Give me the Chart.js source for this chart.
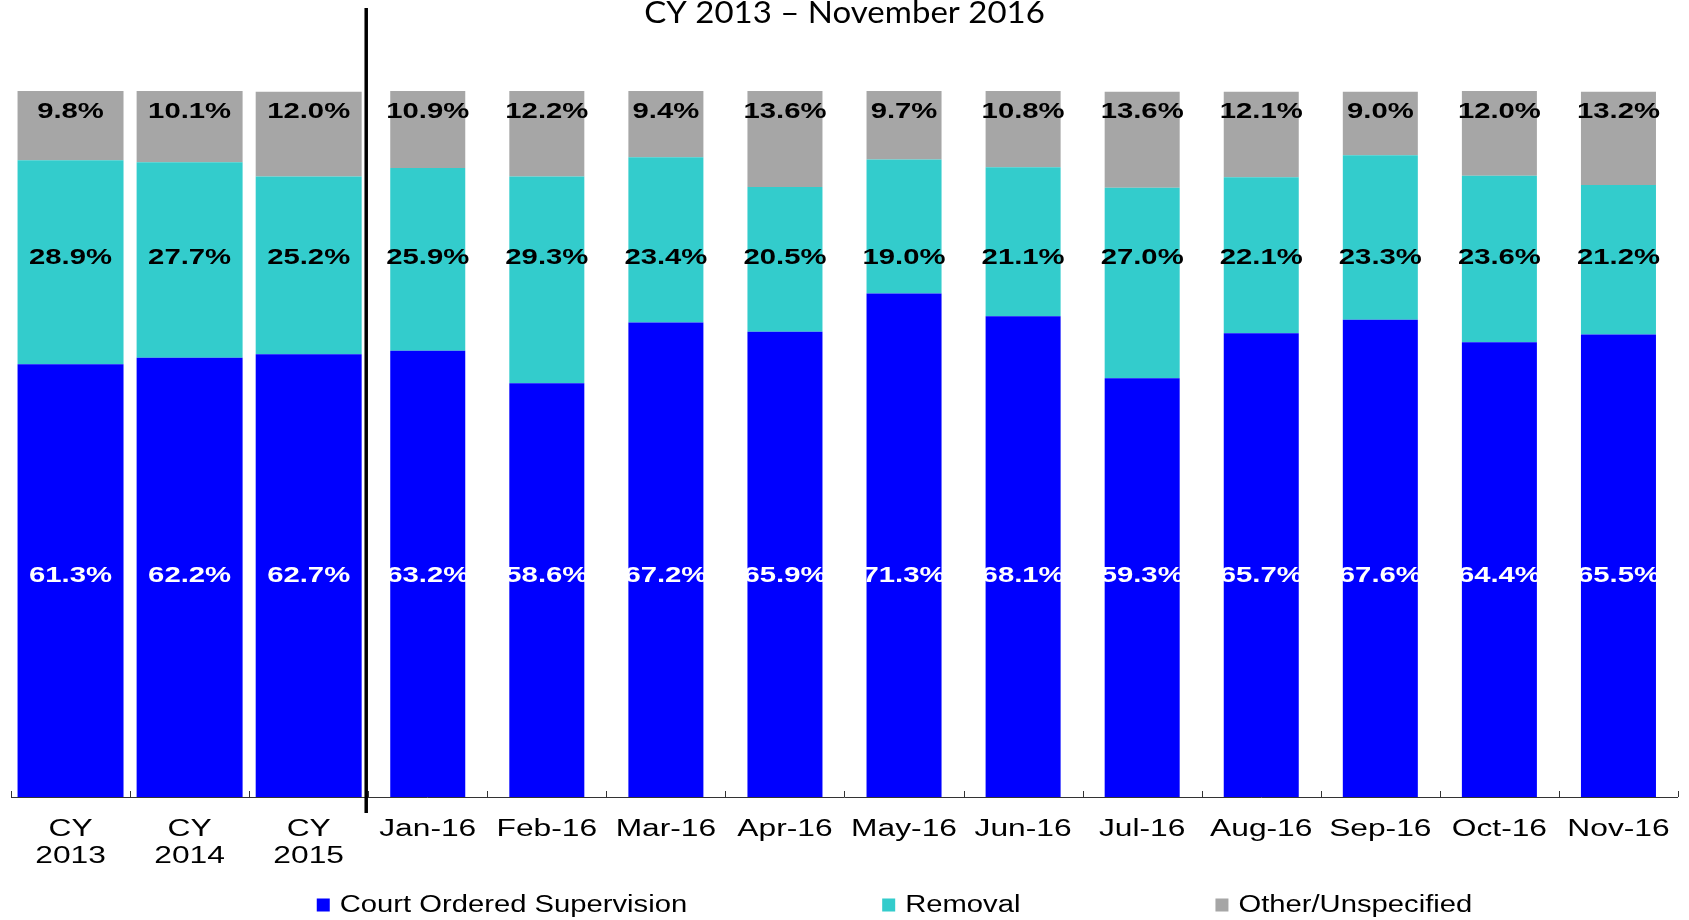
<!DOCTYPE html>
<html>
<head>
<meta charset="utf-8">
<script src="https://cdn.jsdelivr.net/npm/chart.js@4.4.1/dist/chart.umd.min.js"></script>
<style>
  html, body { margin: 0; padding: 0; background: #fff; }
  #wrap { width: 1689px; height: 920px; position: relative; }
</style>
</head>
<body>
<div id="wrap"><canvas id="chart"></canvas></div>
<script>
// categories (first three are full calendar years, the rest are months)
const categories = [['CY', '2013'], ['CY', '2014'], ['CY', '2015'], 'Jan-16', 'Feb-16', 'Mar-16', 'Apr-16',
    'May-16', 'Jun-16', 'Jul-16', 'Aug-16', 'Sep-16', 'Oct-16', 'Nov-16'];
const yearCount = 3;

const courtOrdered = [61.3, 62.2, 62.7, 63.2, 58.6, 67.2, 65.9, 71.3, 68.1, 59.3, 65.7, 67.6, 64.4, 65.5];
const removal = [28.9, 27.7, 25.2, 25.9, 29.3, 23.4, 20.5, 19.0, 21.1, 27.0, 22.1, 23.3, 23.6, 21.2];
const other = [9.8, 10.1, 12.0, 10.9, 12.2, 9.4, 13.6, 9.7, 10.8, 13.6, 12.1, 9.0, 12.0, 13.2];

const seriesNames = ['Court Ordered Supervision', 'Removal', 'Other/Unspecified'];
const seriesValues = [courtOrdered, removal, other];
const seriesColors = ['#0000ff', '#33cccc', '#a6a6a6'];
const labelColors = ['#ffffff', '#000000', '#000000'];
// the original labels sit at roughly the same height in every bar
const labelLevels = [31.3, 76.3, 97];

const titleText = 'CY 2013 \u2013 November 2016';
const FONT = '"Liberation Sans", Arial, sans-serif';

// year bars are wider than month bars, so each series gets two datasets
const datasets = [];
seriesValues.forEach((vals, s) => {
    datasets.push({
        label: seriesNames[s],
        data: vals.map((v, i) => i < yearCount ? v : null),
        backgroundColor: seriesColors[s],
        barPercentage: 0.89,
        categoryPercentage: 1,
        series: s
    });
    datasets.push({
        label: seriesNames[s],
        data: vals.map((v, i) => i < yearCount ? null : v),
        backgroundColor: seriesColors[s],
        barPercentage: 0.63,
        categoryPercentage: 1,
        series: s
    });
});

function stretchText(ctx, text, x, y, sx, align) {
    ctx.save();
    ctx.translate(x, y);
    ctx.scale(sx, 1);
    ctx.textAlign = align || 'center';
    ctx.fillText(text, 0, 0);
    ctx.restore();
}

const overlay = {
    id: 'overlay',
    afterDatasetsDraw(chart) {
        const ctx = chart.ctx;
        const ys = chart.scales.y;
        ctx.save();
        ctx.font = 'bold 22px ' + FONT;
        ctx.textBaseline = 'middle';
        chart.data.datasets.forEach((ds, d) => {
            const meta = chart.getDatasetMeta(d);
            meta.data.forEach((bar, i) => {
                const v = ds.data[i];
                if (v === null) return;
                const p = bar.getProps(['x'], true);
                const s = ds.series;
                ctx.fillStyle = labelColors[s];
                stretchText(ctx, v.toFixed(1) + '%', p.x, ys.getPixelForValue(labelLevels[s]), 1.33);
            });
        });
        ctx.restore();
    },
    afterDraw(chart) {
        const ctx = chart.ctx;
        const area = chart.chartArea;
        const xs = chart.scales.x;
        const step = xs.getPixelForValue(1) - xs.getPixelForValue(0);
        ctx.save();

        // title
        ctx.fillStyle = '#000';
        ctx.font = '30px Lato, "Open Sans", sans-serif';
        ctx.textBaseline = 'alphabetic';
        stretchText(ctx, titleText, chart.width / 2, 23, 1.1);

        // axis line and inner tick marks
        ctx.strokeStyle = '#333';
        ctx.lineWidth = 1;
        ctx.beginPath();
        ctx.moveTo(area.left, area.bottom + 0.5);
        ctx.lineTo(area.right, area.bottom + 0.5);
        for (let i = 0; i <= categories.length; i++) {
            const tx = Math.round(xs.getPixelForValue(i) - step / 2) + 0.5;
            ctx.moveTo(tx, area.bottom);
            ctx.lineTo(tx, area.bottom - 6);
        }
        ctx.stroke();

        // divider between years and months
        const divX = xs.getPixelForValue(yearCount) - step / 2 - 2;
        ctx.strokeStyle = '#000';
        ctx.lineWidth = 3.5;
        ctx.beginPath();
        ctx.moveTo(divX, 8);
        ctx.lineTo(divX, area.bottom + 16);
        ctx.stroke();

        // category labels
        ctx.fillStyle = '#000';
        ctx.font = '23px ' + FONT;
        categories.forEach((c, i) => {
            const lines = Array.isArray(c) ? c : [c];
            lines.forEach((t, k) => {
                stretchText(ctx, t, xs.getPixelForValue(i), area.bottom + 39 + k * 27, 1.38);
            });
        });

        // legend
        const sx = 1.27, box = 13, boxGap = 10, itemGap = 195;
        ctx.font = '23px ' + FONT;
        const widths = seriesNames.map(n => box + boxGap + ctx.measureText(n).width * sx);
        const total = widths.reduce((a, b) => a + b, 0) + itemGap * (widths.length - 1);
        let lx = chart.width / 2 + 50 - total / 2;
        const ly = 905;
        ctx.textBaseline = 'middle';
        seriesNames.forEach((n, s) => {
            ctx.fillStyle = seriesColors[s];
            ctx.fillRect(lx, ly - box / 2, box, box);
            ctx.fillStyle = '#000';
            stretchText(ctx, n, lx + box + boxGap, ly + 1, sx, 'left');
            lx += widths[s] + itemGap;
        });
        ctx.restore();
    }
};

new Chart(document.getElementById('chart'), {
    type: 'bar',
    data: { labels: categories, datasets: datasets },
    options: {
        responsive: true,
        maintainAspectRatio: false,
        animation: false,
        layout: { padding: { top: 91, bottom: 123, left: 11, right: 11 } },
        scales: {
            x: { stacked: true, display: false },
            y: { stacked: true, display: false, min: 0, max: 100 }
        },
        plugins: {
            legend: { display: false },
            title: { display: false },
            tooltip: { enabled: false }
        }
    },
    plugins: [overlay]
});
</script>
</body>
</html>
